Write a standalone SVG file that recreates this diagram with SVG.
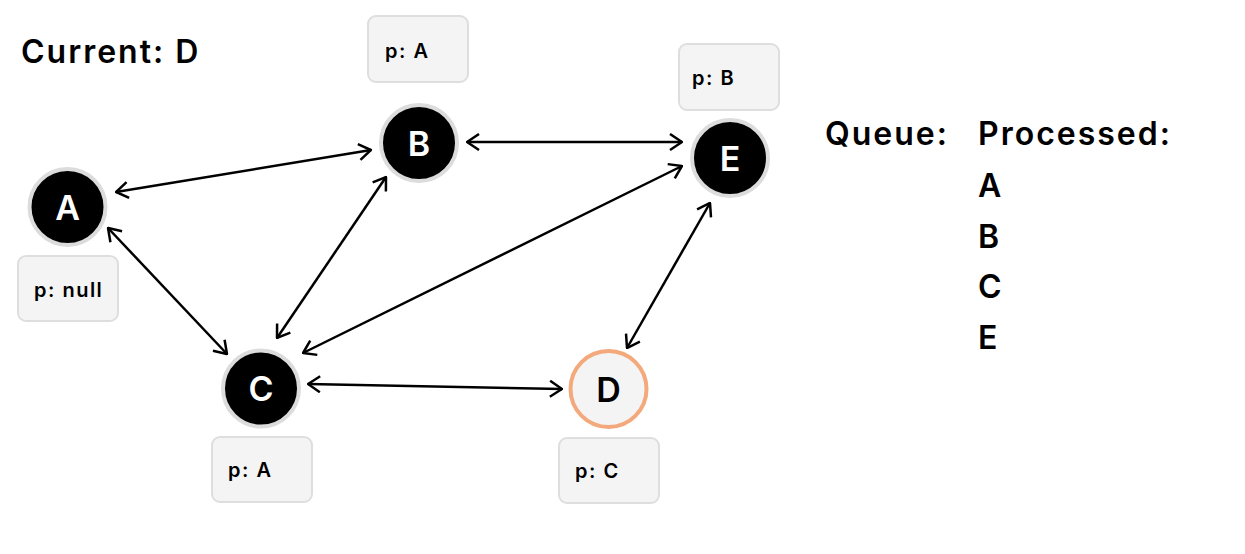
<svg xmlns="http://www.w3.org/2000/svg" width="1245" height="554" viewBox="0 0 1245 554">
<style>
.t{font-family:Inter,"Noto Sans","Liberation Sans",sans-serif;font-weight:600;fill:#000}
.big{font-size:32px;letter-spacing:2px}
.lbl{font-size:20px;letter-spacing:1.5px}
.nl{font-size:34px;fill:#fff;text-anchor:middle}
.box{fill:#f4f4f4;stroke:#dedede;stroke-width:2}
.node{fill:#000;stroke:#dcdcdc;stroke-width:4}
.edge{stroke:#000;stroke-width:2.5;fill:none;marker-start:url(#ah);marker-end:url(#ah)}
</style>
<defs>
<marker id="ah" markerUnits="userSpaceOnUse" viewBox="0 0 14 18" refX="13" refY="9" markerWidth="14" markerHeight="18" orient="auto-start-reverse">
<path d="M1,1 L13,9 L1,17" fill="none" stroke="#000" stroke-width="2.5"/>
</marker>
</defs>
<rect width="1245" height="554" fill="#fff"/>
<text class="t big" x="21" y="63">Current: D</text>
<text class="t big" x="825" y="145">Queue:</text>
<g id="processed">
<text class="t big" x="978" y="145">Processed:</text>
<text class="t big" x="978" y="197">A</text>
<text class="t big" x="978" y="248">B</text>
<text class="t big" x="978" y="298">C</text>
<text class="t big" x="978" y="349">E</text>
</g>
<g id="connectors">
<line class="edge" x1="116" y1="192" x2="371" y2="150"/>
<line class="edge" x1="467" y1="142" x2="682" y2="142"/>
<line class="edge" x1="108" y1="228" x2="227" y2="354"/>
<line class="edge" x1="386" y1="177" x2="277" y2="338"/>
<line class="edge" x1="682" y1="166" x2="303" y2="353"/>
<line class="edge" x1="710" y1="203" x2="627" y2="348"/>
<line class="edge" x1="308" y1="384" x2="562" y2="389"/>
</g>
<g id="node-A">
<circle class="node" cx="67.5" cy="207" r="38"/>
<text class="t nl" x="67.5" y="219.5">A</text>
<rect class="box" x="18" y="256" width="100" height="65" rx="8"/>
<text class="t lbl" x="34" y="297">p: null</text>
</g>
<g id="node-B">
<circle class="node" cx="419" cy="143" r="38"/>
<text class="t nl" x="419" y="155.5">B</text>
<rect class="box" x="368" y="16" width="100" height="66" rx="8"/>
<text class="t lbl" x="385" y="58">p: A</text>
</g>
<g id="node-E">
<circle class="node" cx="730" cy="158" r="38"/>
<text class="t nl" x="730" y="170.5">E</text>
<rect class="box" x="679" y="44" width="100" height="66" rx="8"/>
<text class="t lbl" x="692" y="85">p: B</text>
</g>
<g id="node-C">
<circle class="node" cx="261" cy="388.5" r="38"/>
<text class="t nl" x="261" y="401">C</text>
<rect class="box" x="212" y="437" width="100" height="65" rx="8"/>
<text class="t lbl" x="228" y="477">p: A</text>
</g>
<g id="node-D">
<circle cx="608.5" cy="389" r="38" fill="#f4f4f4" stroke="#f4a97c" stroke-width="4"/>
<text class="t nl" x="608.5" y="401.5" style="fill:#000">D</text>
<rect class="box" x="559" y="438" width="100" height="65" rx="8"/>
<text class="t lbl" x="575" y="478">p: C</text>
</g>
</svg>
